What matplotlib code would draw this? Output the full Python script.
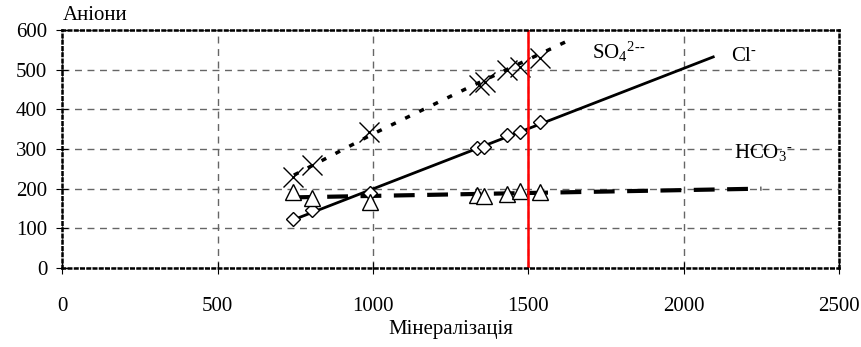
import matplotlib.pyplot as plt

plt.rcParams['font.family'] = ['Liberation Serif', 'DejaVu Serif']
plt.rcParams['mathtext.fontset'] = 'custom'
plt.rcParams['mathtext.rm'] = 'Liberation Serif'
plt.rcParams['mathtext.it'] = 'Liberation Serif:italic'

# measured points
so4_x = [742, 803, 986, 1340, 1360, 1431, 1474, 1537]
so4_y = [230, 260, 344, 462, 470, 499, 507, 529]
cl_x = [742, 803, 990, 1334, 1356, 1431, 1474, 1538]
cl_y = [123, 146, 190, 302, 306, 335, 343, 369]
hco3_x = [742, 803, 990, 1334, 1356, 1431, 1474, 1538]
hco3_y = [192, 176, 167, 184, 182, 186, 195, 192]

# trend lines
so4_tx = [745, 1000, 1300, 1620]
so4_ty = [234, 338, 452, 570]
cl_tx = [745, 2095]
cl_ty = [122, 532]
hco3_tx = [745, 2250]
hco3_ty = [178, 200]

red_x = 1500

fig = plt.figure(figsize=(8.61, 3.47), dpi=100)
ax = fig.add_axes([0.0725, 0.2277, 0.902, 0.686])

ax.plot(so4_tx, so4_ty, color='black', lw=2.5, linestyle=(0, (1.5, 3)))
ax.plot(cl_tx, cl_ty, color='black', lw=2)
ax.plot(hco3_tx, hco3_ty, color='black', lw=3, linestyle=(0, (5, 3)))

ax.plot(so4_x, so4_y, 'x', color='black', ms=14, mew=1, ls='none')
ax.plot(cl_x, cl_y, 'D', mfc='white', mec='black', ms=7, mew=1, ls='none')
ax.plot(hco3_x, hco3_y, '^', mfc='white', mec='black', ms=11, mew=1, ls='none')

ax.axvline(red_x, color='red', lw=1.8)

hy = '\u2010'
ax.text(1790, 544, 'SO$_4$$^{2' + hy + hy + '}$', fontsize=15, ha='center', va='center')
ax.text(2193, 532, 'Cl$^{' + hy + '}$', fontsize=15, ha='center', va='center')
ax.text(2255, 290, 'HCO$_3$$^{' + hy + '}$', fontsize=15, ha='center', va='center')

ax.set_xlim(0, 2500)
ax.set_ylim(0, 600)
ax.set_xticks(range(0, 2501, 500))
ax.set_yticks(range(0, 601, 100))
ax.tick_params(direction='inout', length=8, labelsize=15, color='black')
ax.tick_params(axis='x', pad=17)
ax.tick_params(axis='y', pad=7)
ax.grid(True, color='#666666', linestyle=(0, (5, 4)), lw=1)

for s in ax.spines.values():
    s.set_linestyle((0, (1, 1.5)))
    s.set_linewidth(1.8)

ax.set_xlabel('Мінералізація', fontsize=15, labelpad=3)
fig.text(0.073, 0.928, 'Аніони', fontsize=15, va='bottom')

fig.savefig('out.png', dpi=100)
